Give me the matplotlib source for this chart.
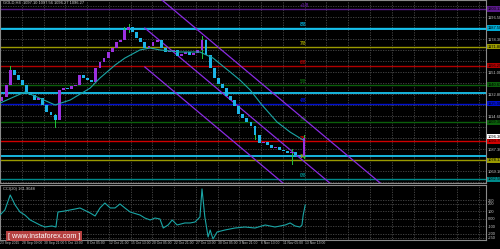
"""GOLD H4 chart with Murray levels, channel and CCI panel (MT4 style)."""

import matplotlib

matplotlib.use("Agg")
import matplotlib.pyplot as plt
from matplotlib.patches import Rectangle

plt.rcParams["font.family"] = ["Liberation Sans", "DejaVu Sans"]

# ---- data (x unit = one 12h candle, price in USD) ----
closes = [
    1130.4, 1140.3, 1152.7, 1148.6, 1144.4, 1140.3, 1134.5, 1132.0, 1127.9, 1129.6,
    1123.8, 1118.0, 1115.5, 1111.4, 1136.2, 1137.8, 1136.9, 1139.5, 1140.3, 1148.6,
    1146.1, 1144.4, 1142.8, 1154.4, 1159.3, 1162.6, 1167.6, 1170.9, 1175.9, 1177.5,
    1185.8, 1188.3, 1184.1, 1179.2, 1175.9, 1170.9, 1172.6, 1175.9, 1177.5, 1170.9,
    1167.6, 1168.2, 1169.3, 1164.3, 1165.9, 1167.6, 1165.1, 1166.8, 1169.3, 1177.5,
    1165.1, 1154.4, 1146.1, 1141.1, 1137.8, 1131.2, 1127.9, 1122.9, 1116.3, 1113.0,
    1109.7, 1106.4, 1099.0, 1092.3, 1093.2, 1090.7, 1088.2, 1089.0, 1086.5, 1085.7,
    1084.1, 1084.9, 1082.4, 1081.6, 1096.3,
]
first_open = 1127.0
wick_pos = [2, 13, 30, 31, 49, 62, 71, 74]
wick_lo = [1146.0, 1105.5, 1180.0, 1184.0, 1163.0, 1096.0, 1075.0, 1080.0]
wick_hi = [1156.0, 1116.0, 1188.0, 1191.0, 1181.0, 1104.0, 1087.0, 1099.0]

ma_pos = [0.0, 6.1, 9.1, 13.5, 17.2, 22.1, 24.5, 28.2, 30.6, 34.3, 36.8, 39.2,
          44.1, 49.0, 52.2, 56.4, 58.8, 61.3, 64.2, 67.9, 71.1, 74.3]
ma_val = [1125.4, 1134.5, 1130.4, 1123.8, 1127.9, 1137.8, 1146.1, 1156.8, 1162.6,
          1169.3, 1170.9, 1169.3, 1167.6, 1167.6, 1162.6, 1151.1, 1144.4, 1136.2,
          1123.8, 1109.7, 1101.4, 1094.8]

# descending channel: (start pos, start price, end pos, end price)
channel = [
    (30.0, 1238.0, 100.0, 1040.0),
    (35.5, 1187.4, 88.0, 1039.0),
    (35.5, 1155.2, 76.5, 1039.0),
]

murray_levels = [1203.13, 1187.50, 1171.88, 1156.25, 1140.63, 1125.00, 1109.38,
                 1093.75, 1078.13, 1062.50]
murray_names = ["+1/8", "8/8", "7/8", "6/8", "5/8", "4/8", "3/8", "2/8", "1/8", "0/8"]
murray_colors = ["#5a1a8a", "#00a8d0", "#9a9a00", "#b00000", "#0b5f0b", "#0010d0",
                 "#0b5f0b", "#d00000", "#9a9a00", "#008a8a"]
sr_levels = [1186.4, 1133.7, 1081.8]

cci_pos = [0, 1.2, 2.5, 3.7, 4.9, 6.1, 7.4, 9.8, 11.0, 12.7, 13.7, 14.2, 15.9, 18.4,
           19.6, 22.1, 23.3, 24.5, 25.7, 27.0, 28.2, 29.4, 30.6, 31.9, 34.3, 35.5,
           36.8, 38.0, 39.2, 40.0, 41.2, 42.2, 43.4, 45.3, 46.6, 47.8, 49.0, 49.5,
           50.2, 51.0, 51.5, 52.2, 53.2, 55.1, 57.6, 60.0, 62.5, 65.0, 67.4, 69.9,
           71.1, 72.3, 73.5, 74.0, 74.3, 74.8]
cci_val = [53, 120, 320, 187, 93, 53, -13, -80, -107, -93, -107, 93, 107, 133, 147,
           80, 40, 147, 213, 147, 147, 200, 147, 93, 53, 13, -13, 13, 0, -120, -80,
           -13, -80, -53, -53, -40, 27, 400, 27, -240, -147, -267, -173, -147, -120,
           -107, -120, -80, -107, -80, -53, -93, -107, -80, 53, 187]
cci_levels = [250, 200, 100, 0, -100, -200, -250]
cci_labels = ["250", "200", "100", "0.00", "-100", "-200", "-250"]

time_labels = ["23 Sep 2015", "28 Sep 09:00", "30 Sep 21:00", "5 Oct 13:00",
               "8 Oct 05:00", "12 Oct 21:00", "15 Oct 13:00", "20 Oct 05:00",
               "22 Oct 21:00", "27 Oct 13:00", "30 Oct 05:00", "3 Nov 21:00",
               "6 Nov 13:00", "11 Nov 05:00", "13 Nov 13:00"]
title = "GOLD,H4  1097.10 1097.56 1096.27 1096.27"
cci_title = "CCI(20) 161.9048"

# ---- figure ----
BG = "black"
GRID = "#4a4a4a"
FRAME = "#8a8a8a"
XMAX = 119.1
FS = 2.9
fig = plt.figure(figsize=(5.0, 2.49), dpi=100, facecolor=BG)
ax = fig.add_axes([0.0, 1 - 183 / 249, 486 / 500, 183 / 249], facecolor=BG)
ax2 = fig.add_axes([0.0, 9 / 249, 486 / 500, 55 / 249], facecolor=BG)

step = 16 / 3
grid_x = [i * step for i in range(int(XMAX / step) + 1)]
for a in (ax, ax2):
    for s in a.spines.values():
        s.set_color(FRAME)
        s.set_linewidth(0.8)
    a.set_xlim(0, XMAX)
    a.set_xticks(grid_x)
    a.grid(True, color=GRID, linestyle=(0, (1.5, 1.5)), linewidth=0.6)
    a.tick_params(length=0, colors="#c8c8c8", labelsize=FS, pad=1)
    a.yaxis.tick_right()
ax.set_xticklabels([])

# price grid; grey labels only where no level box sits
ax.set_ylim(1059.3, 1210.6)
price_ticks = [1205.6 - 9.1 * i for i in range(17)]
ax.set_yticks(price_ticks)
ax.set_yticklabels([
    f"{v:.2f}" if min(abs(v - m) for m in murray_levels + [closes[-1]]) > 4.5 else ""
    for v in price_ticks
])

# horizontal lines
for lvl, col in zip(murray_levels, murray_colors):
    ax.axhline(lvl, color=col, linewidth=1.0, zorder=2)
for lvl in sr_levels:
    ax.axhline(lvl, color="#19c3ef", linewidth=1.3, zorder=2.5)
for lvl, name, col in zip(murray_levels, murray_names, murray_colors):
    ax.text(73.5, lvl + 0.6, name, color=col, fontsize=FS + 0.4, fontweight="bold",
            va="bottom", ha="left", zorder=3)
    ax.text(1.004, lvl, f"{lvl:.2f}", transform=ax.get_yaxis_transform(),
            fontsize=FS, color="black", va="center", ha="left", clip_on=False,
            bbox=dict(boxstyle="square,pad=0.15", fc=col, ec="none"), zorder=6)
ax.text(1.004, closes[-1] + 1.2, f"{closes[-1]:.2f}", transform=ax.get_yaxis_transform(),
        fontsize=FS, color="black", va="center", ha="left", clip_on=False,
        bbox=dict(boxstyle="square,pad=0.15", fc="white", ec="none"), zorder=7)

# channel
for x0, y0, x1, y1 in channel:
    ax.plot([x0, x1], [y0, y1], color="#8a2be2", linewidth=0.9, zorder=3)

# candles
opens = [first_open] + closes[:-1]
for i, (o, c) in enumerate(zip(opens, closes)):
    up = c >= o
    ax.bar(i + 0.5, c - o if abs(c - o) > 0.4 else 0.8, bottom=o, width=0.7,
           color="#9b30e0" if up else "#1cb4e6", linewidth=0, zorder=4)
for p, lo, hi in zip(wick_pos, wick_lo, wick_hi):
    ax.plot([p + 0.5, p + 0.5], [lo, hi], color="#22c43a", linewidth=0.7, zorder=3.8)

# moving average
ax.plot(ma_pos, ma_val, color="#1aa5a5", linewidth=0.8, zorder=5)

ax.text(0.006, 0.995, title, transform=ax.transAxes, fontsize=FS, color="#d0d0d0",
        va="top", ha="left")

# CCI panel
ax2.set_ylim(-280, 453)
ax2.set_yticks(cci_levels)
ax2.set_yticklabels(cci_labels)
ax2.plot(cci_pos, cci_val, color="#1aa5a5", linewidth=0.8, zorder=4)
ax2.text(0.006, 0.97, cci_title, transform=ax2.transAxes, fontsize=FS,
         color="#d0d0d0", va="top", ha="left")
ax2.set_xticklabels(time_labels + [""] * (len(grid_x) - len(time_labels)),
                    ha="left", fontsize=2.4)

# watermark
fig.patches.append(Rectangle((6 / 500, 8 / 249), 76 / 500, 10 / 249,
                             transform=fig.transFigure, facecolor="#c94848",
                             edgecolor="none", alpha=0.9, zorder=10))
fig.text(44 / 500, 13 / 249, "[ www.instaforex.com ]", color="white",
         fontsize=5.2, ha="center", va="center", zorder=11)

fig.savefig("out.png", dpi=100, facecolor=BG)
